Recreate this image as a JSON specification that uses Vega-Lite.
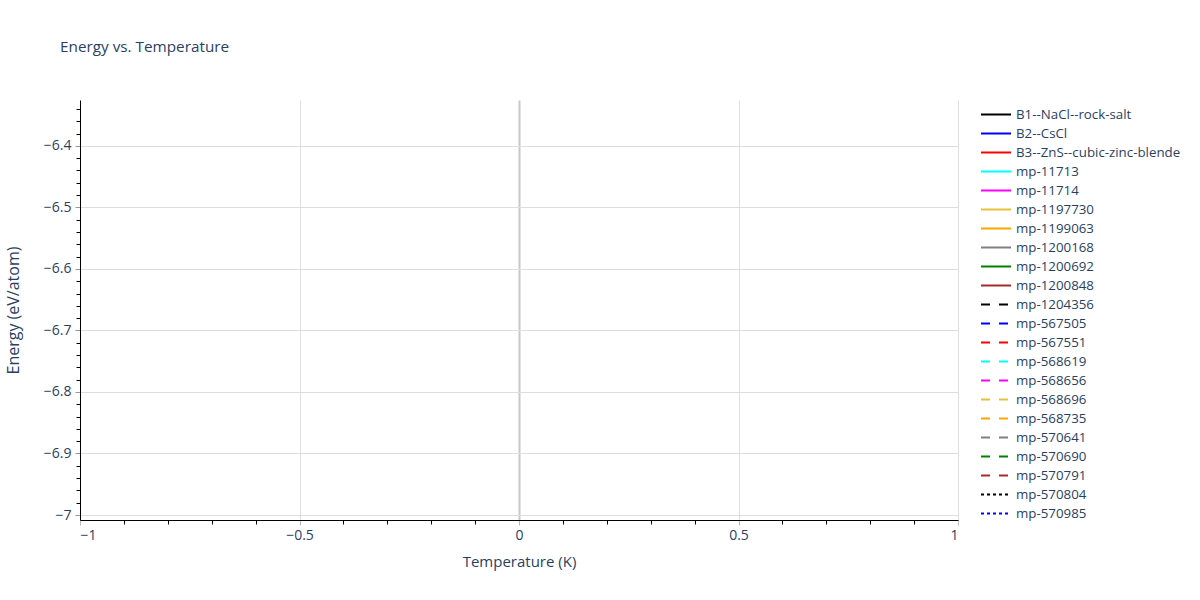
{
  "$schema": "https://vega.github.io/schema/vega-lite/v6.json",
  "autosize": "none",
  "width": 878,
  "height": 420,
  "padding": {"left": 80, "top": 100, "right": 242, "bottom": 80},
  "background": "white",
  "title": {
    "text": "Energy vs. Temperature",
    "anchor": "start",
    "frame": "group",
    "dx": -20,
    "offset": 33,
    "baseline": "alphabetic",
    "font": "Open Sans",
    "fontSize": 15.3,
    "fontWeight": "normal",
    "color": "#2a3f5f"
  },
  "data": {
    "values": [
      {"structure": "B1--NaCl--rock-salt", "temperature": null, "energy": null},
      {"structure": "B2--CsCl", "temperature": null, "energy": null},
      {"structure": "B3--ZnS--cubic-zinc-blende", "temperature": null, "energy": null},
      {"structure": "mp-11713", "temperature": null, "energy": null},
      {"structure": "mp-11714", "temperature": null, "energy": null},
      {"structure": "mp-1197730", "temperature": null, "energy": null},
      {"structure": "mp-1199063", "temperature": null, "energy": null},
      {"structure": "mp-1200168", "temperature": null, "energy": null},
      {"structure": "mp-1200692", "temperature": null, "energy": null},
      {"structure": "mp-1200848", "temperature": null, "energy": null},
      {"structure": "mp-1204356", "temperature": null, "energy": null},
      {"structure": "mp-567505", "temperature": null, "energy": null},
      {"structure": "mp-567551", "temperature": null, "energy": null},
      {"structure": "mp-568619", "temperature": null, "energy": null},
      {"structure": "mp-568656", "temperature": null, "energy": null},
      {"structure": "mp-568696", "temperature": null, "energy": null},
      {"structure": "mp-568735", "temperature": null, "energy": null},
      {"structure": "mp-570641", "temperature": null, "energy": null},
      {"structure": "mp-570690", "temperature": null, "energy": null},
      {"structure": "mp-570791", "temperature": null, "energy": null},
      {"structure": "mp-570804", "temperature": null, "energy": null},
      {"structure": "mp-570985", "temperature": null, "energy": null}
    ]
  },
  "layer": [
    {
      "mark": {"type": "line", "strokeWidth": 2},
      "encoding": {
        "x": {
          "field": "temperature",
          "type": "quantitative",
          "scale": {"domain": [-1, 1], "nice": false, "zero": false},
          "axis": {
            "title": "Temperature (K)",
            "values": [-1, -0.5, 0, 0.5, 1],
            "format": "~g",
            "tickSize": 5,
            "tickColor": "#bbbbbb",
            "labelPadding": 3,
            "titlePadding": 12,
            "domainColor": "#000000",
            "gridColor": {"condition": {"test": "datum.value === 0", "value": "#c8c8c8"}, "value": "#dedede"},
            "gridWidth": {"condition": {"test": "datum.value === 0", "value": 2}, "value": 1}
          }
        },
        "y": {
          "field": "energy",
          "type": "quantitative",
          "scale": {"domain": [-7.0081, -6.3255], "nice": false, "zero": false},
          "axis": {
            "title": "Energy (eV/atom)",
            "titleFontSize": 16,
            "values": [-7, -6.9, -6.8, -6.7, -6.6, -6.5, -6.4],
            "format": "~g",
            "tickSize": 5,
            "tickColor": "#999999",
            "labelPadding": 4,
            "titlePadding": 22,
            "domainColor": "#000000",
            "gridColor": "#dedede"
          }
        },
        "color": {
          "field": "structure",
          "type": "nominal",
          "scale": {
            "domain": ["B1--NaCl--rock-salt", "B2--CsCl", "B3--ZnS--cubic-zinc-blende", "mp-11713", "mp-11714", "mp-1197730", "mp-1199063", "mp-1200168", "mp-1200692", "mp-1200848", "mp-1204356", "mp-567505", "mp-567551", "mp-568619", "mp-568656", "mp-568696", "mp-568735", "mp-570641", "mp-570690", "mp-570791", "mp-570804", "mp-570985"],
            "range": ["#000000", "#0000ff", "#ff0000", "#00ffff", "#ff00ff", "#e6c13c", "#ffa500", "#808080", "#008000", "#a52a2a", "#000000", "#0000ff", "#ff0000", "#00ffff", "#ff00ff", "#e6c13c", "#ffa500", "#808080", "#008000", "#a52a2a", "#000000", "#0000ff"]
          },
          "legend": {
            "title": null,
            "orient": "none",
            "legendX": 900,
            "legendY": 5,
            "padding": 0,
            "symbolType": "stroke",
            "symbolSize": 900,
            "symbolStrokeWidth": 2,
            "clipHeight": 19,
            "rowPadding": 0,
            "labelOffset": 4,
            "labelLimit": 0,
            "labelFont": "Open Sans",
            "labelFontSize": 13.3,
            "labelColor": "#2a3f5f"
          }
        },
        "strokeDash": {
          "field": "structure",
          "type": "nominal",
          "scale": {
            "domain": ["B1--NaCl--rock-salt", "B2--CsCl", "B3--ZnS--cubic-zinc-blende", "mp-11713", "mp-11714", "mp-1197730", "mp-1199063", "mp-1200168", "mp-1200692", "mp-1200848", "mp-1204356", "mp-567505", "mp-567551", "mp-568619", "mp-568656", "mp-568696", "mp-568735", "mp-570641", "mp-570690", "mp-570791", "mp-570804", "mp-570985"],
            "range": [[1, 0], [1, 0], [1, 0], [1, 0], [1, 0], [1, 0], [1, 0], [1, 0], [1, 0], [1, 0], [9, 9], [9, 9], [9, 9], [9, 9], [9, 9], [9, 9], [9, 9], [9, 9], [9, 9], [9, 9], [3, 3], [3, 3]]
          },
          "legend": {
            "title": null,
            "orient": "none",
            "legendX": 900,
            "legendY": 5,
            "padding": 0,
            "symbolType": "stroke",
            "symbolSize": 900,
            "symbolStrokeWidth": 2,
            "clipHeight": 19,
            "rowPadding": 0,
            "labelOffset": 4,
            "labelLimit": 0,
            "labelFont": "Open Sans",
            "labelFontSize": 13.3,
            "labelColor": "#2a3f5f"
          }
        }
      }
    },
    {
      "mark": {"type": "line", "strokeWidth": 2},
      "encoding": {
        "x": {
          "field": "temperature",
          "type": "quantitative",
          "axis": {
            "orient": "bottom",
            "title": null,
            "values": [-0.9, -0.8, -0.7, -0.6, -0.4, -0.3, -0.2, -0.1, 0.1, 0.2, 0.3, 0.4, 0.6, 0.7, 0.8, 0.9],
            "labels": false,
            "grid": false,
            "domain": false,
            "tickSize": 4,
            "tickColor": "#000000"
          }
        },
        "y": {
          "field": "energy",
          "type": "quantitative",
          "axis": {
            "orient": "left",
            "title": null,
            "values": [-6.98, -6.96, -6.94, -6.92, -6.88, -6.86, -6.84, -6.82, -6.78, -6.76, -6.74, -6.72, -6.68, -6.66, -6.64, -6.62, -6.58, -6.56, -6.54, -6.52, -6.48, -6.46, -6.44, -6.42, -6.38, -6.36, -6.34],
            "labels": false,
            "grid": false,
            "domain": false,
            "tickSize": 4,
            "tickColor": "#000000"
          }
        }
      }
    }
  ],
  "resolve": {"axis": {"x": "independent", "y": "independent"}},
  "config": {
    "view": {"stroke": null},
    "axis": {
      "labelFont": "Open Sans",
      "labelFontSize": 14,
      "labelColor": "#2a3f5f",
      "titleFont": "Open Sans",
      "titleFontSize": 15,
      "titleFontWeight": "normal",
      "titleColor": "#2a3f5f"
    }
  }
}
